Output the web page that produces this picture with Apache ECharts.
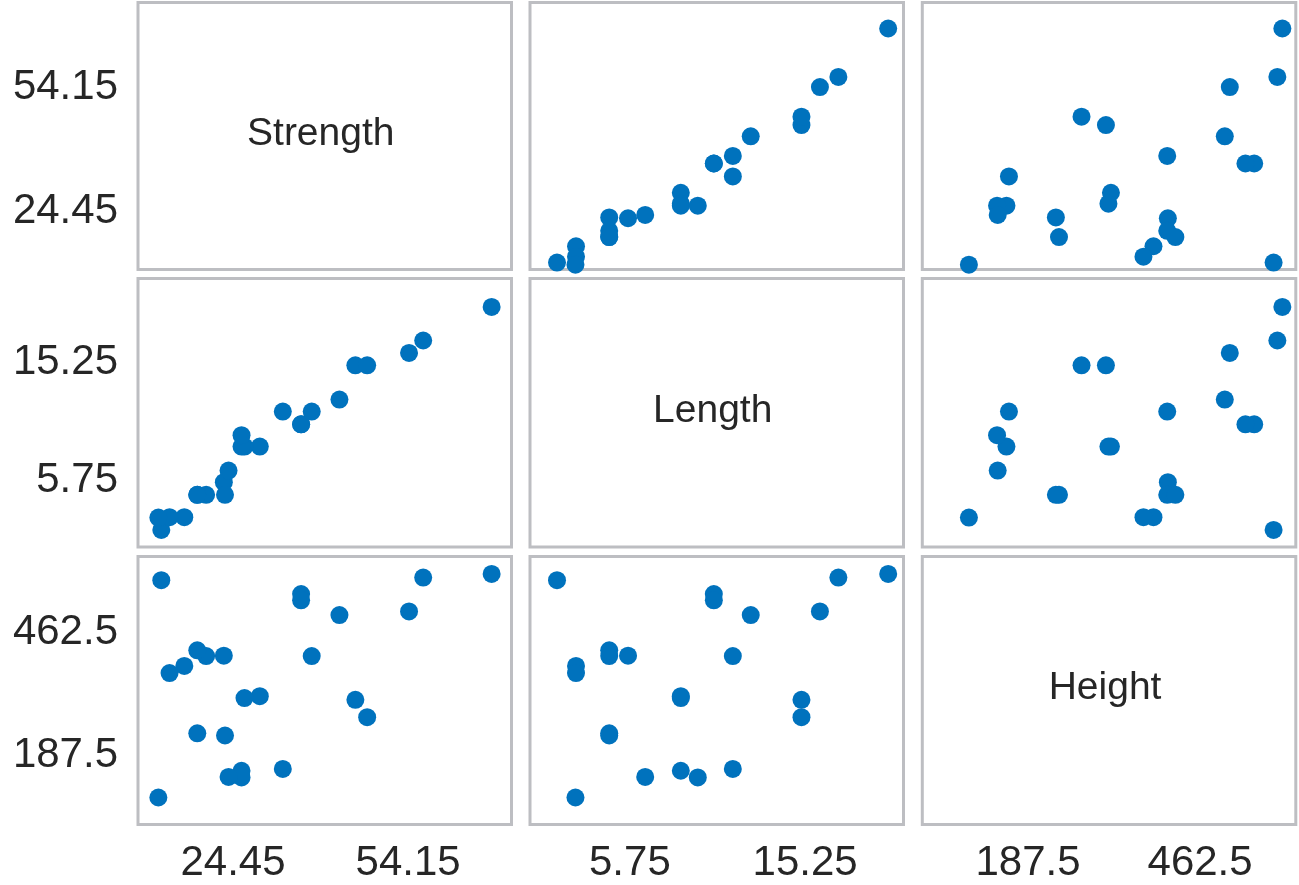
<!DOCTYPE html>
<html>
<head>
<meta charset="utf-8">
<title>Scatter matrix</title>
<script src="https://cdn.jsdelivr.net/npm/echarts@6/dist/echarts.min.js"></script>
<style>
  html, body { margin: 0; padding: 0; background: #fff; }
  #myChart { width: 1299px; height: 885px; }
</style>
</head>
<body>
<div id="myChart"></div>
<script>
// variables of the matrix
const names = ['Strength', 'Length', 'Height'];

const strength = [68.3, 56.7, 12.3, 36.0, 36.0, 54.3, 42.5, 22.9, 37.8, 19.9, 18.4, 16.2,
                  13.7, 29.0, 26.4, 45.2, 47.2, 18.4, 23.1, 32.9, 25.9, 25.9, 23.7, 11.8];
const length = [19.75, 17.05, 1.8, 10.3, 10.3, 16.05, 12.3, 5.65, 11.33, 4.63, 4.63, 2.83,
                2.83, 8.51, 8.51, 15.05, 15.05, 4.63, 4.63, 11.33, 8.51, 9.43, 6.58, 2.8];
const height = [594, 586, 580, 549, 535, 510, 502, 411, 410, 410, 423, 388,
                372, 320, 316, 312, 273, 237, 232, 157, 153, 138, 139, 93];

// tick labels for each variable
const strengthTicks = [24.45, 54.15];
const lengthTicks = [5.75, 15.25];
const heightTicks = [187.5, 462.5];

const vars = [strength, length, height];
const ticks = [strengthTicks, lengthTicks, heightTicks];

// axis extents (x when used as column, y when used as row)
const xRange = [[8.35, 71.67], [0.336, 20.58], [18.5, 615.5]];
const yRange = [[10.64, 74.52], [0.43, 22.04], [32.5, 633.2]];

// panel layout
const colLeft = [138, 530, 922.3];
const colWidth = 373.5;
const rowTop = [2.5, 278.5, 556.5];
const rowHeight = [267, 268.5, 268];

const labelFont = {
  fontSize: 42,
  fontFamily: '"Liberation Sans", Arial, sans-serif',
  color: '#262626'
};

let grids = [], xAxes = [], yAxes = [], series = [], texts = [];

for (let r = 0; r < 3; r++) {
  for (let c = 0; c < 3; c++) {
    const k = r * 3 + c;
    grids.push({
      left: colLeft[c],
      top: rowTop[r],
      width: colWidth,
      height: rowHeight[r],
      show: true,
      borderColor: '#bdbec2',
      borderWidth: 3,
      backgroundColor: '#fff'
    });
    xAxes.push({
      type: 'value',
      gridIndex: k,
      min: xRange[c][0],
      max: xRange[c][1],
      axisLine: { show: false },
      axisTick: { show: false },
      splitLine: { show: false },
      axisLabel: Object.assign({
        show: r === 2,
        margin: 18,
        customValues: ticks[c],
        formatter: v => String(v)
      }, labelFont)
    });
    yAxes.push({
      type: 'value',
      gridIndex: k,
      min: yRange[r][0],
      max: yRange[r][1],
      axisLine: { show: false },
      axisTick: { show: false },
      splitLine: { show: false },
      axisLabel: Object.assign({
        show: c === 0,
        margin: 20,
        customValues: ticks[r],
        formatter: v => String(v)
      }, labelFont)
    });

    if (r === c) {
      // variable name in the diagonal panel
      texts.push({
        type: 'text',
        x: colLeft[c] + colWidth / 2 - 4,
        y: rowTop[r] + rowHeight[r] / 2 - 2,
        style: {
          text: names[r],
          fontSize: 39,
          fontFamily: '"Liberation Sans", Arial, sans-serif',
          fill: '#262626',
          align: 'center',
          verticalAlign: 'middle',
          textAlign: 'center',
          textVerticalAlign: 'middle'
        }
      });
      continue;
    }

    const pts = [];
    for (let i = 0; i < strength.length; i++) {
      pts.push([vars[c][i], vars[r][i]]);
    }
    series.push({
      type: 'scatter',
      xAxisIndex: k,
      yAxisIndex: k,
      data: pts,
      symbolSize: 18,
      itemStyle: { color: '#0072BD', opacity: 1 },
      emphasis: { disabled: true }
    });
  }
}

let myChart = echarts.init(document.getElementById('myChart'));
myChart.setOption({
  animation: false,
  grid: grids,
  xAxis: xAxes,
  yAxis: yAxes,
  series: series,
  graphic: texts
});
</script>
</body>
</html>
